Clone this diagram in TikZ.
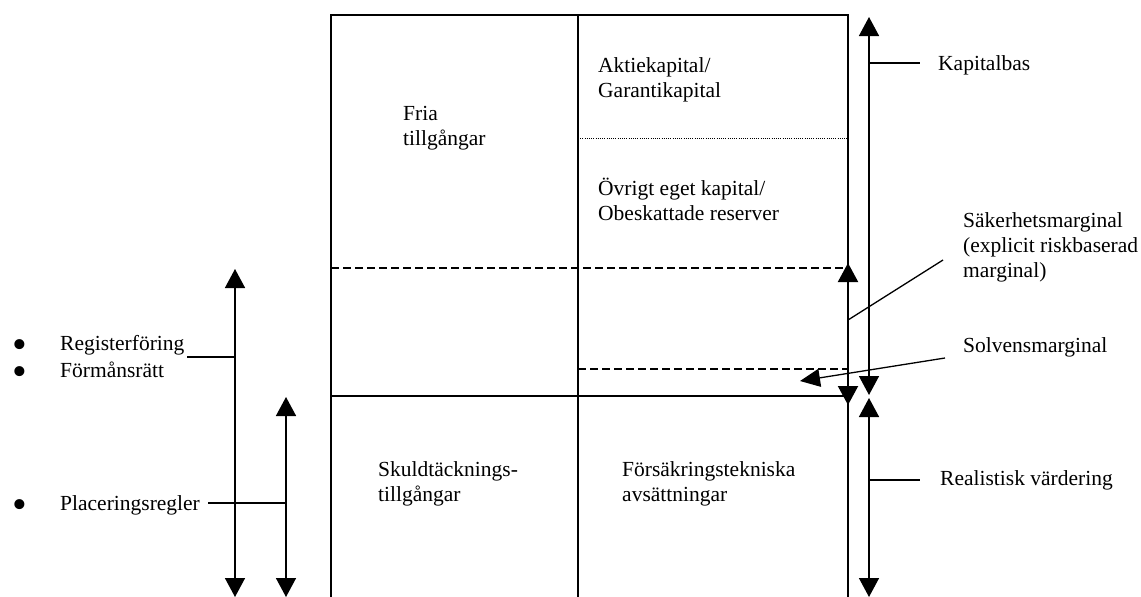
\documentclass[tikz,border=0pt]{standalone}
\usepackage{fontspec}
\setmainfont{Liberation Serif}
\usetikzlibrary{arrows.meta}

\newcommand{\blt}{\makebox[48pt][l]{\smash{\raisebox{-8pt}{\fontsize{42}{42}\selectfont\textbullet}}}}

\begin{document}
\begin{tikzpicture}[x=1pt,y=-1pt]

    % Styles
    \tikzstyle{txt} = [inner sep=0pt, anchor=base west, align=left, font=\fontsize{21.5}{25}\selectfont]
    \tikzstyle{frame} = [line width=1.3pt]
    \tikzstyle{tick} = [line width=1.3pt]
    \tikzstyle{dashline} = [line width=1.2pt, dash pattern=on 8pt off 4pt]
    \tikzstyle{dotline} = [line width=0.8pt, dash pattern=on 1pt off 1.2pt]
    \tikzstyle{arrow} = [line width=1.5pt,<->,>={Triangle[width=20pt,length=19pt]}]
    \tikzstyle{pointer} = [line width=1.3pt,->,>={Triangle[width=18pt,length=20pt]}]

    \useasboundingbox (0,0) rectangle (1141,597);

    % Noeuds (base = last line)
    \node (fria) [txt] at (403,145) {Fria\\tillgångar};
    \node (aktie) [txt] at (598,97) {Aktiekapital/\\Garantikapital};
    \node (ovrigt) [txt] at (598,220) {Övrigt eget kapital/\\Obeskattade reserver};
    \node (skuld) [txt] at (378,501) {Skuldtäcknings-\\tillgångar};
    \node (forsak) [txt] at (622,501) {Försäkringstekniska\\avsättningar};
    \node (kapbas) [txt] at (938,70) {Kapitalbas};
    \node (saker) [txt] at (963,277) {Säkerhetsmarginal\\(explicit riskbaserad\\marginal)};
    \node (solvens) [txt] at (963,352) {Solvensmarginal};
    \node (real) [txt] at (940,485) {Realistisk värdering};
    \node (reg) [txt] at (12,350) {\blt Registerföring};
    \node (form) [txt] at (12,377) {\blt Förmånsrätt};
    \node (plac) [txt] at (12,510) {\blt Placeringsregler};

    % Points
    \coordinate (kap-top) at (869,17);
    \coordinate (kap-bot) at (869,395);
    \coordinate (real-top) at (869,398);
    \coordinate (real-bot) at (869,597);
    \coordinate (sak-top) at (848,263);
    \coordinate (sak-bot) at (848,405);
    \coordinate (reg-top) at (235,269);
    \coordinate (reg-bot) at (235,597);
    \coordinate (plac-top) at (286,397);
    \coordinate (plac-bot) at (286,597);

    % Cadre
    \draw [frame] (331,597) -- (331,15) -- (848,15) -- (848,597);
    \draw [frame] (578,15) -- (578,597);
    \draw [frame] (331,396) -- (848,396);
    \draw [dotline] (578,138) -- (848,138);
    \draw [dashline] (331,268) -- (843,268);
    \draw [dashline] (578,369) -- (848,369);

    % Flèches
    \draw [arrow] (kap-top) -- (kap-bot);
    \draw [arrow] (real-top) -- (real-bot);
    \draw [arrow, line width=2pt] (sak-top) -- (sak-bot);
    \draw [arrow] (reg-top) -- (reg-bot);
    \draw [arrow] (plac-top) -- (plac-bot);

    % Traits
    \coordinate (kap-j) at (869,63);
    \coordinate (kap-e) at (920,63);
    \coordinate (real-j) at (869,480);
    \coordinate (real-e) at (920,480);
    \coordinate (sak-j) at (848,320);
    \coordinate (sak-e) at (943,260);
    \coordinate (solv-e) at (945,358);
    \coordinate (solv-tip) at (800,381);
    \coordinate (reg-j) at (235,357);
    \coordinate (reg-e) at (187,357);
    \coordinate (plac-j) at (286,503);
    \coordinate (plac-e) at (208,503);
    \draw [tick] (kap-j) -- (kap-e);
    \draw [tick] (real-j) -- (real-e);
    \draw [tick] (sak-j) -- (sak-e);
    \draw [pointer] (solv-e) -- (solv-tip);
    \draw [tick] (reg-j) -- (reg-e);
    \draw [tick] (plac-j) -- (plac-e);

\end{tikzpicture}
\end{document}
